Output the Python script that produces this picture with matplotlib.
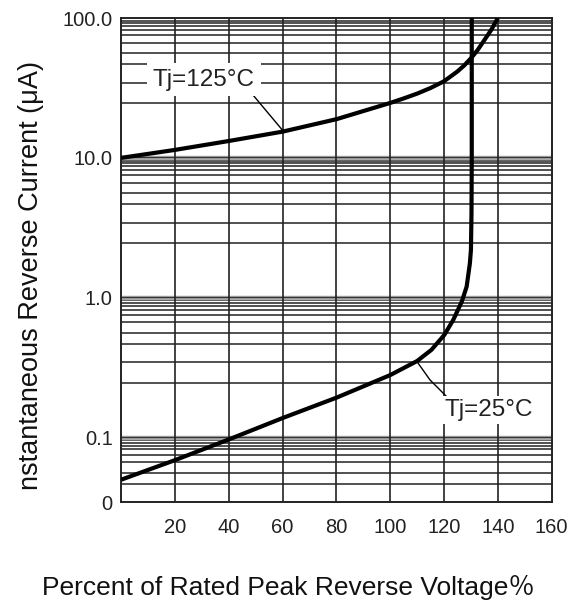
import matplotlib
matplotlib.use("Agg")
import matplotlib.pyplot as plt
from matplotlib import font_manager as fm
from matplotlib.font_manager import FontProperties
import numpy as np

# ---- data ----
v125 = [0, 20, 40, 60, 80, 100, 105, 110, 115, 120, 125, 127.5, 130, 132.5, 135, 137.5, 140]
i125 = [10.0, 11.4, 13.2, 15.4, 18.9, 24.7, 26.6, 28.8, 31.6, 35.3, 41.5, 45.8, 51.5, 59.1, 69.6, 82.0, 100.0]

v25 = [0, 20, 40, 60, 80, 100, 110, 115.3, 120.1, 123.4, 126.6, 128.4, 129.6, 130.0, 130.2, 130.3, 130.3]
i25 = [0.050, 0.069, 0.097, 0.138, 0.193, 0.280, 0.353, 0.424, 0.542, 0.693, 0.938, 1.2, 1.76, 2.2, 4.0, 10.0, 100.0]

x_ticks = [20, 40, 60, 80, 100, 120, 140, 160]
x_ticklabels = ["20", "40", "60", "80", "100", "120", "140", "160"]
y_bottom = 0.0345
y_ticks = [y_bottom, 0.1, 1, 10, 100]
y_ticklabels = ["0", "0.1", "1.0", "10.0", "100.0"]

label125 = "Tj=125°C"
label25 = "Tj=25°C"
xlabel = "Percent of Rated Peak Reverse Voltage％"
ylabel = "nstantaneous Reverse Current (μA)"

# ---- fonts: prefer a condensed face like the reference ----
narrow_file = None
for key in ["LiberationSansNarrow-Regular"]:
    for f in fm.fontManager.ttflist:
        if key in f.fname:
            narrow_file = f.fname
            break
if narrow_file:
    tick_fp = FontProperties(fname=narrow_file, size=16)
    ann_fp = FontProperties(fname=narrow_file, size=20)
else:
    tick_fp = FontProperties(family="Liberation Sans", size=14.5)
    ann_fp = FontProperties(family="Liberation Sans", size=17.5)
reg = ["Liberation Sans", "Noto Sans CJK SC", "DejaVu Sans"]

fig = plt.figure(figsize=(5.77, 6.06), dpi=100)
ax = fig.add_axes([121/577, 1-502.3/606, (551.7-121)/577, (502.3-18)/606])
ax.set_yscale("log")
ax.set_xlim(0, 160)
ax.set_ylim(y_bottom, 100)

# custom grid (reference uses a non-standard decade subdivision)
grid_fracs = [0.019, 0.038, 0.057, 0.084, 0.125, 0.176, 0.251, 0.330, 0.462, 0.606]
for D in [100, 10, 1, 0.1]:
    for f in grid_fracs:
        val = D * 10 ** (-f)
        if val > y_bottom * 1.01:
            ax.axhline(val, color="#222222", lw=1.1, zorder=1)
for D in [10, 1, 0.1]:
    ax.axhline(D, color="#a8a8a8", lw=3.2, zorder=1)
    ax.axhline(D * 10 ** 0.005, color="#333333", lw=0.9, zorder=1)
for xv in range(20, 160, 20):
    ax.axvline(xv, color="#222222", lw=1.2, zorder=1)

for s in ax.spines.values():
    s.set_color("#222222")
    s.set_linewidth(1.4)

ax.plot(v125, i125, color="black", lw=3.0, zorder=4, solid_capstyle="butt", solid_joinstyle="round")
ax.plot(v25, i25, color="black", lw=3.0, zorder=4, solid_capstyle="butt", solid_joinstyle="round")

ax.set_xticks(x_ticks)
ax.set_xticklabels(x_ticklabels)
ax.set_yticks(y_ticks)
ax.set_yticklabels(y_ticklabels)
ax.yaxis.set_minor_locator(matplotlib.ticker.NullLocator())
ax.tick_params(axis="both", length=0)
ax.tick_params(axis="x", pad=11)
ax.tick_params(axis="y", pad=6)
for t in ax.get_xticklabels() + ax.get_yticklabels():
    t.set_fontproperties(tick_fp)
    t.set_color("#222222")

# annotations
ax.text(30.8, 36.1, label125, fontproperties=ann_fp, ha="center", va="center",
        color="#222222", zorder=5,
        bbox=dict(facecolor="white", edgecolor="none", pad=4))
ax.plot([49.0, 60.2], [28.2, 15.6], color="black", lw=1.0, zorder=3)

ax.text(136.8, 0.158, label25, fontproperties=ann_fp, ha="center", va="center",
        color="#222222", zorder=5,
        bbox=dict(facecolor="white", edgecolor="none", pad=2))
ax.plot([110.4, 114.8, 121.6], [0.340, 0.2585, 0.191], color="black", lw=1.0, zorder=3)

fig.text(288/577, 1-595/606, xlabel, fontsize=19, family=reg, ha="center", va="baseline",
         color="#111111")
fig.text(31/577, 1-275/606, ylabel, fontsize=19.5, family=reg, ha="center", va="center",
         rotation=90, color="#111111")

fig.savefig("out.png", dpi=100)
